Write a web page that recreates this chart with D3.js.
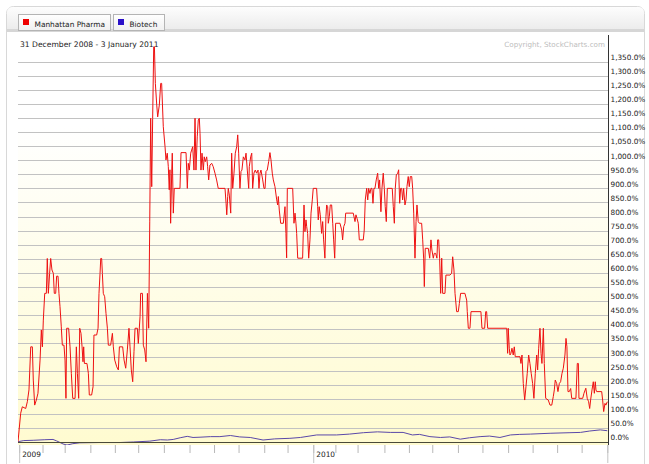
<!DOCTYPE html>
<html>
<head>
<meta charset="utf-8">
<script src="https://cdn.jsdelivr.net/npm/d3@7"></script>
<style>
html,body{margin:0;padding:0;background:#fff;}
svg{display:block;}
text{font-family:"DejaVu Sans",Verdana,sans-serif;}
</style>
</head>
<body>
<svg id="chart" width="649" height="464"></svg>
<script>
// ---------- DATA ----------
// x = trading-day index counted from 31 Dec 2008 (0) to 3 Jan 2011 (505)
const seriesNames = ["Manhattan Pharma", "Biotech"];
const seriesColors = ["#ee0000", "#2a10c8"];

const pharmaDay = [0,2.3,3.7,6.6,8,9.4,10.9,12.3,13.1,14.3,15.7,17.1,18.9,20,20.9,21.7,22.9,24.3,25.1,26,27.1,28,29.1,30.3,31.1,32.3,33.1,34.3,35.1,36,37.1,38,39.4,40.3,41.1,41.7,43.4,44.6,45.7,46.9,48.9,50,50.9,52,52.9,54,54.9,55.7,56.3,56.9,59.1,60.3,61.1,63.1,64.3,65.1,67.4,68.6,69.4,70.3,70.9,71.7,72.3,73.1,74.3,75.4,76.6,77.4,79.4,80.9,81.7,82.9,84.6,86,86.9,89.7,90.9,92.3,93.7,95.1,96,97.1,98.3,99.4,100.3,102.3,103.1,104.6,105.1,106.6,107.4,108.6,109.7,110.9,112,112.9,113.7,114.6,115.4,116.3,116.9,117.7,118.9,119.7,121.1,122.3,123.1,124.5,126,126.8,127.9,128.8,129.6,130.2,130.8,131.7,132.2,133.1,133.9,138.8,139.7,144,145.1,145.9,146.8,148,148.8,149.7,150.8,151.7,152.5,153.6,154.5,155.4,156,156.8,157.7,158.8,159.6,160.5,161.7,162.5,163.4,164.5,166,167.3,168.8,170.2,171.6,177.4,178.3,178.9,179.7,180.2,181.1,182.3,183.1,184,185.1,186.2,187.4,188.3,189.1,190.2,191.1,191.9,193.1,194.5,195.4,196.5,197.7,198.2,199.4,200.3,201.1,202.2,203.3,204.5,205.7,206.5,207.4,208.2,209.7,210.8,211.7,212.5,213.6,214.8,215.9,216.8,217.9,218.8,220.2,221.7,222.5,223.1,223.9,225.1,227.4,228.8,229.6,230.2,230.8,235.4,236.5,237.4,238.2,238.8,239.7,243.9,245.1,245.9,246.8,247.4,248.2,249.1,250.2,251.1,252.2,253,255.9,256.8,257.3,258.1,259,260.2,261.1,261.9,263,263.9,264.5,265.4,265.9,266.8,267.6,268.8,269.7,270.5,271.4,272.2,275.9,277.4,278.2,279.1,280.2,280.8,287.3,288.8,289.6,290.5,291.6,292.5,295.9,296.7,297.6,298.8,299.7,300.5,301.6,302.5,303.3,304.2,305,305.9,307,308.2,309.1,309.9,311,311.9,313,313.9,314.7,315.6,316.5,320.7,321.6,322.5,323.3,324.2,325.4,326.2,327.1,327.9,328.8,329.6,330.5,331.6,332.5,333.3,334.4,335.3,336.2,337.4,338.2,339.1,340.2,341.1,341.9,343,343.9,345.9,346.8,347.6,348.2,349,351.6,352.8,353.9,354.7,355.9,356.7,357.9,359,359.6,360.5,361.3,362.2,363.1,363.9,365.9,366.7,370.2,371.6,372.5,373.6,374.5,375.9,377.3,378.2,379.3,383,384.5,385,385.9,387.3,388.2,396.7,397.6,399.9,400.8,401.6,402.5,418.8,419.6,420.1,421,421.6,422.4,423.3,424.4,425.3,426.1,430.2,431,431.9,433,434.2,435.3,436.4,437.6,438.7,439.8,441,442.1,443.3,444.5,445.3,446.2,447.3,448.2,449,450.2,451,452.2,454.4,455.9,457.4,458.7,459.6,460.4,461.6,462.7,463.9,465,466.2,467.3,468.7,469.6,470.4,471.3,472.4,473.6,474.5,478.1,479.3,480.2,480.7,483.9,485,486.6,487.8,489,489.9,490.7,491.9,493,493.9,494.7,495.3,495.9,500.2,501,501.9,503,503.8,505];
const pharmaPct = [0,101,124,118,142,184,337,337,219,130,148,172,290,397,337,432,527,527,651,527,598,651,610,598,527,527,588,588,527,480,408,343,343,290,154,403,403,337,243,154,154,337,243,154,403,385,337,284,337,278,278,243,166,166,195,379,379,403,527,598,651,651,598,527,515,456,403,343,343,385,337,290,266,255,337,337,290,261,326,403,337,255,213,320,403,403,349,444,527,527,343,326,284,527,403,781,1149,906,1149,1403,1403,1273,1196,1154,1196,1273,1273,1119,1048,1001,1025,977,895,966,776,954,1025,812,900,900,1027,1027,900,989,965,1025,1036,1048,965,1149,965,1083,1143,1149,1095,965,1025,965,1012,995,1012,977,930,983,989,977,954,930,900,900,847,806,871,900,876,812,1025,900,954,1025,1048,1090,1025,900,960,965,1012,1001,1025,965,900,977,1012,1025,900,954,965,954,965,900,954,965,930,900,900,960,965,995,1027,1001,954,930,906,859,841,871,823,776,776,835,740,653,900,900,776,812,776,740,652,652,841,746,788,764,740,652,717,812,859,900,900,835,788,835,806,740,782,717,652,800,841,835,776,800,841,841,776,717,652,776,776,752,717,764,776,812,812,782,806,794,776,717,717,752,859,900,859,900,882,900,900,847,900,900,930,954,900,930,817,900,954,900,835,782,900,900,835,776,900,948,954,966,847,900,900,859,900,841,859,906,942,906,942,942,900,812,652,782,841,782,776,776,717,652,551,687,687,652,717,681,652,669,669,652,717,717,652,527,652,527,527,592,592,598,657,610,527,462,462,491,527,527,503,462,403,403,462,462,403,403,462,462,403,403,314,403,332,308,314,332,308,337,302,302,278,308,207,148,195,243,308,278,243,207,154,243,308,255,332,403,314,278,403,278,154,148,130,130,160,184,219,207,178,207,213,243,261,308,367,337,178,178,189,154,154,278,278,154,154,172,190,154,142,118,148,184,213,172,213,184,178,178,148,107,136,130,142];

const biotechDay = [0,5,13,23,30,33,38.6,42,47,53,70,87,99,113,122,128,133,139,145,150,156,165,173,182,190,199,210,220,233,242,256,273,284,296,308,319,330,338,344,353,362,370,379,387,396,404,413,422,430,439,456,473,482,490,499,505];
const biotechPct = [0,4,5,7,8,3,-8,-12,-7,-4,-3,-3,-1,2,7,6,8,14,19,15,16,18,18,22,17,15,6,10,12,15,24,24,27,32,35,33,33,24,26,18,15,17,9,14,18,20,15,24,26,27,30,32,33,38,42,39];

const yTicks = [0,50,100,150,200,250,300,350,400,450,500,550,600,650,700,750,800,850,900,950,1000,1050,1100,1150,1200,1250,1300,1350];
const monthStartDay = [1,21,40,62,83,103,125,147,168,189,211,231,253,272,291,314,335,355,377,398,420,441,462,483,505];
const yearStartDay = [1,253,505];
const yearLabels = ["2009","2010",""];
const dateRangeText = "31 December 2008 - 3 January 2011";
const copyrightText = "Copyright, StockCharts.com";

// ---------- LAYOUT ----------
const plotL = 18, plotR = 608, plotT = 35, plotB = 445;
const svg = d3.select("#chart");

const x = d3.scaleLinear().domain([0, 505]).range([plotL, 607.3]);
const y = d3.scaleLinear().domain([0, 1350]).range([441.7, 61.7]);

const defs = svg.append("defs");
const bg = defs.append("linearGradient").attr("id","bg").attr("x1",0).attr("y1",0).attr("x2",0).attr("y2",1);
bg.append("stop").attr("offset","0%").attr("stop-color","#ffffff");
bg.append("stop").attr("offset","22%").attr("stop-color","#ffffff");
bg.append("stop").attr("offset","100%").attr("stop-color","#fffbd0");
const hd = defs.append("linearGradient").attr("id","hd").attr("x1",0).attr("y1",0).attr("x2",0).attr("y2",1);
hd.append("stop").attr("offset","0%").attr("stop-color","#fdfdfd");
hd.append("stop").attr("offset","100%").attr("stop-color","#ececec");
const tb = defs.append("linearGradient").attr("id","tb").attr("x1",0).attr("y1",0).attr("x2",0).attr("y2",1);
tb.append("stop").attr("offset","0%").attr("stop-color","#ffffff");
tb.append("stop").attr("offset","100%").attr("stop-color","#f0f0f0");
defs.append("clipPath").attr("id","clip").append("rect")
  .attr("x", plotL).attr("y", plotT).attr("width", plotR - plotL).attr("height", plotB - plotT);

// outer frame
svg.append("rect").attr("x",6.5).attr("y",6.5).attr("width",638).attr("height",475).attr("rx",7)
  .attr("fill","#fff").attr("stroke","#d8d8d8");
// header
svg.append("path").attr("d","M7,29 L7,13 Q7,7 13,7 L638,7 Q644,7 644,13 L644,29 Z").attr("fill","url(#hd)");
svg.append("rect").attr("x",7).attr("y",29).attr("width",637).attr("height",3).attr("fill","#d6d6d6");

// legend tabs
const tabs = [{x:18.5,w:92},{x:113.5,w:51}];
seriesNames.forEach((name,i)=>{
  const g = svg.append("g");
  g.append("rect").attr("x",tabs[i].x).attr("y",14.5).attr("width",tabs[i].w).attr("height",16)
    .attr("fill","url(#tb)").attr("stroke","#b4b4b4");
  g.append("rect").attr("x",tabs[i].x+4.5).attr("y",19).attr("width",6).attr("height",6).attr("fill",seriesColors[i]);
  g.append("text").attr("x",tabs[i].x+16).attr("y",26.5).attr("font-size","7.4px").attr("fill","#222").text(name);
});

// plot background
svg.append("rect").attr("x",plotL).attr("y",plotT).attr("width",plotR-plotL).attr("height",plotB-plotT).attr("fill","url(#bg)");

// grid lines
const crisp = v => Math.round(v) + 0.5;
svg.append("g").selectAll("line").data(yTicks.filter(t=>t>0)).join("line")
  .attr("x1",plotL).attr("x2",plotR).attr("y1",d=>crisp(y(d))).attr("y2",d=>crisp(y(d)))
  .attr("stroke","#c2c2c2").attr("stroke-width",1);

// texts in plot
svg.append("text").attr("x",20).attr("y",46.5).attr("font-size","7.6px").attr("fill","#222").text(dateRangeText);
svg.append("text").attr("x",605).attr("y",46.5).attr("text-anchor","end").attr("font-size","7.2px").attr("fill","#bdbdbd").text(copyrightText);

// series
const line = d3.line().x(d=>x(d[0])).y(d=>y(d[1]));
const gS = svg.append("g").attr("clip-path","url(#clip)");
gS.append("path").datum(biotechDay.map((d,i)=>[d,biotechPct[i]]))
  .attr("d",line).attr("fill","none").attr("stroke","#5a48a8").attr("stroke-width",1);
gS.append("path").datum(pharmaDay.map((d,i)=>[d,pharmaPct[i]]))
  .attr("d",line).attr("fill","none").attr("stroke","#ee1111").attr("stroke-width",1);

// zero line
svg.append("line").attr("x1",plotL).attr("x2",plotR).attr("y1",crisp(y(0))).attr("y2",crisp(y(0)))
  .attr("stroke","#4a4a3a").attr("stroke-width",1);

// right axis
const yAxis = d3.axisRight(y).tickValues(yTicks).tickSize(0).tickPadding(2)
  .tickFormat(d => d3.format(",.1f")(d) + "%");
const gy = svg.append("g").attr("transform",`translate(${plotR+0.5},0)`).call(yAxis);
gy.select(".domain").remove();
gy.selectAll("text").attr("dy",null).attr("y",-2.2).attr("font-family","DejaVu Sans, sans-serif")
  .attr("font-size","7.3px").attr("fill","#222");
svg.append("line").attr("x1",plotR+0.5).attr("x2",plotR+0.5).attr("y1",plotT).attr("y2",plotB)
  .attr("stroke","#333");

// bottom axis (month ticks)
const xAxis = d3.axisBottom(x).tickValues(monthStartDay).tickSize(8).tickFormat("");
const gx = svg.append("g").attr("transform",`translate(0,${plotB})`).call(xAxis);
gx.select(".domain").remove();
gx.selectAll("line").attr("stroke","#b8b8b8");
// year ticks & labels
const yearAxis = d3.axisBottom(x).tickValues(yearStartDay).tickSize(18).tickPadding(0)
  .tickFormat((d,i)=>yearLabels[i]);
const gyr = svg.append("g").attr("transform",`translate(0,${plotB})`).call(yearAxis);
gyr.select(".domain").remove();
gyr.selectAll("line").attr("stroke","#c4c4c4");
gyr.selectAll("text").attr("text-anchor","start").attr("x",2.5).attr("y",12.3).attr("dy",null)
  .attr("font-family","DejaVu Sans, sans-serif").attr("font-size","7.4px").attr("fill","#222");
</script>
</body>
</html>
